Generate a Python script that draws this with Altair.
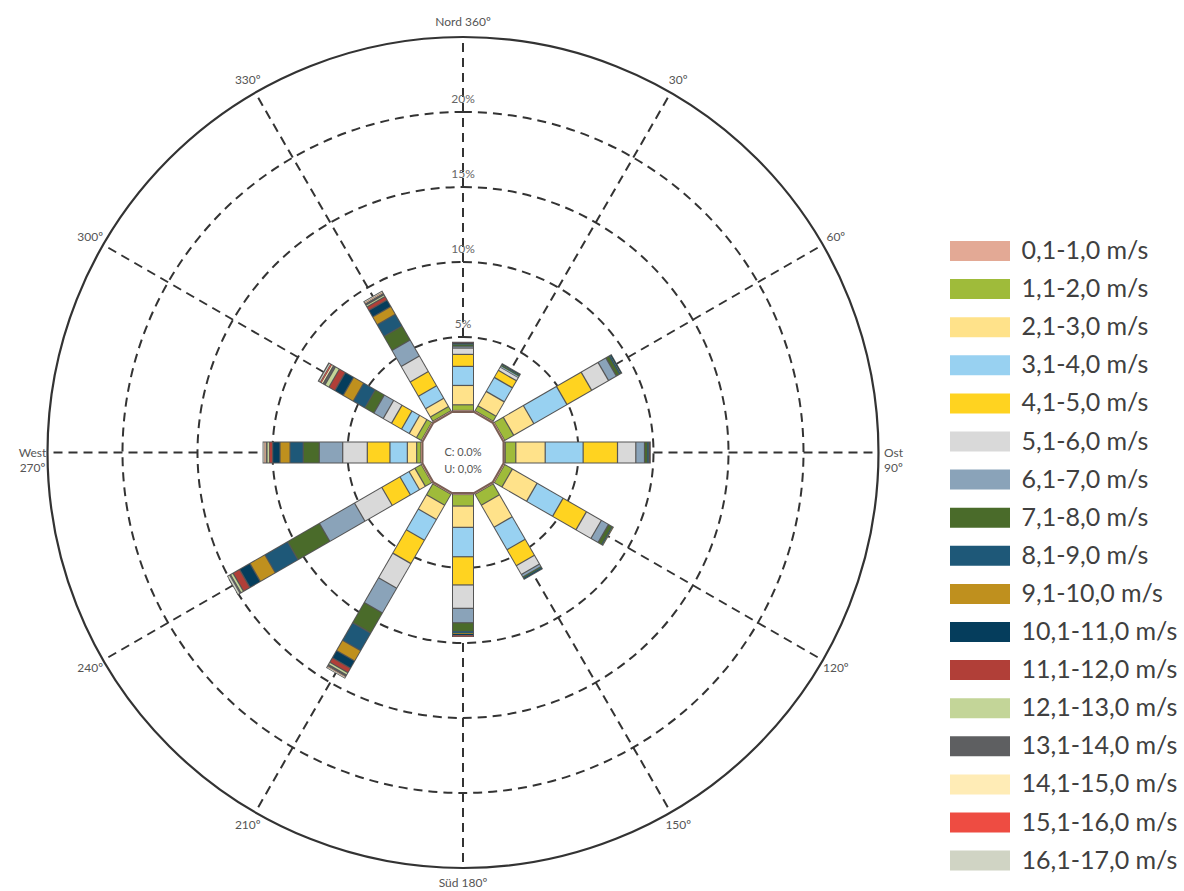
import altair as alt
import pandas as pd

# ---------------- data ----------------
directions = [0, 30, 60, 90, 120, 150, 180, 210, 240, 270, 300, 330]
direction_labels = ["Nord 360º", "30º", "60º", "Ost\n90º", "120º", "150º",
                    "Süd 180º", "210º", "240º", "West\n270º", "300º", "330º"]

speed_bins = ["0,1-1,0 m/s", "1,1-2,0 m/s", "2,1-3,0 m/s", "3,1-4,0 m/s",
              "4,1-5,0 m/s", "5,1-6,0 m/s", "6,1-7,0 m/s", "7,1-8,0 m/s",
              "8,1-9,0 m/s", "9,1-10,0 m/s", "10,1-11,0 m/s", "11,1-12,0 m/s",
              "12,1-13,0 m/s", "13,1-14,0 m/s", "14,1-15,0 m/s",
              "15,1-16,0 m/s", "16,1-17,0 m/s"]
bin_colors = ["#E3A995", "#9FBB3A", "#FFE28A", "#98D1F1", "#FFD320",
              "#D9D9D9", "#8AA3B9", "#4A6B2A", "#1E5878", "#BF901E",
              "#053D5C", "#B13F38", "#C3D598", "#5E5F61", "#FFECB6",
              "#EE4C42", "#D0D4C4"]

# frequency (%) per speed bin, one list per direction (order of speed_bins)
freq_000 = [0.10, 0.38, 1.29, 1.27, 0.80, 0.42, 0.13, 0.07, 0.06, 0.03, 0.04, 0.02, 0.00, 0.02, 0.00, 0.00, 0.00]
freq_030 = [0.10, 0.40, 1.10, 1.08, 0.54, 0.26, 0.08, 0.05, 0.04, 0.02, 0.03, 0.00, 0.00, 0.02, 0.00, 0.00, 0.00]
freq_060 = [0.10, 0.70, 1.55, 2.55, 1.90, 1.30, 0.60, 0.25, 0.08, 0.03, 0.04, 0.00, 0.00, 0.00, 0.00, 0.00, 0.00]
freq_090 = [0.11, 0.71, 1.96, 2.53, 2.29, 1.22, 0.58, 0.20, 0.09, 0.03, 0.03, 0.02, 0.00, 0.00, 0.00, 0.00, 0.00]
freq_120 = [0.10, 0.60, 1.90, 2.00, 1.80, 1.15, 0.55, 0.28, 0.05, 0.02, 0.00, 0.00, 0.00, 0.00, 0.00, 0.00, 0.00]
freq_150 = [0.10, 0.85, 1.70, 1.73, 1.23, 0.68, 0.20, 0.06, 0.05, 0.00, 0.03, 0.00, 0.00, 0.02, 0.00, 0.00, 0.00]
freq_180 = [0.10, 0.77, 1.42, 1.96, 1.88, 1.56, 0.96, 0.58, 0.10, 0.06, 0.08, 0.03, 0.00, 0.02, 0.00, 0.03, 0.00]
freq_210 = [0.10, 0.85, 1.10, 1.60, 1.80, 1.90, 1.90, 1.55, 1.35, 0.80, 0.55, 0.35, 0.18, 0.12, 0.02, 0.02, 0.06]
freq_240 = [0.10, 0.50, 0.45, 0.70, 1.40, 2.10, 2.70, 2.45, 1.75, 1.15, 0.80, 0.50, 0.20, 0.10, 0.00, 0.00, 0.10]
freq_270 = [0.10, 0.29, 0.62, 1.16, 1.51, 1.64, 1.56, 1.07, 0.88, 0.67, 0.49, 0.24, 0.10, 0.12, 0.04, 0.04, 0.08]
freq_300 = [0.10, 0.38, 0.56, 0.59, 0.77, 0.64, 0.72, 0.69, 0.90, 0.77, 0.64, 0.46, 0.30, 0.15, 0.15, 0.05, 0.15]
freq_330 = [0.10, 0.34, 0.64, 0.95, 1.10, 1.20, 1.23, 1.08, 0.90, 0.59, 0.51, 0.26, 0.15, 0.12, 0.04, 0.03, 0.05]

freq_by_dir = [freq_000, freq_030, freq_060, freq_090, freq_120, freq_150,
               freq_180, freq_210, freq_240, freq_270, freq_300, freq_330]

ring_values = [5, 10, 15, 20]
ring_labels = ["5%", "10%", "15%", "20%"]
outer_value = 25
centre_text = "C: 0.0%\nU: 0,0%"

# ---------------- geometry settings ----------------
U0 = 2.7          # radius of the empty centre, in percent units
D = 28.667        # half extent of the square plot, in percent units
SIZE = 860
FONT = "Lato"

rows = []
totals = []
for d, freqs in zip(directions, freq_by_dir):
    cum = 0.0
    for b, v in zip(speed_bins, freqs):
        if v > 0:
            rows.append({"dir": d, "bin": b, "start": cum, "end": cum + v})
        cum += v
    totals.append({"dir": d, "total": cum})
seg_df = pd.DataFrame(rows)
tot_df = pd.DataFrame(totals)
dir_df = pd.DataFrame({"dir": directions, "label": direction_labels})
ring_df = pd.DataFrame({"ring": ring_values, "label": ring_labels})
poly_df = pd.DataFrame({"k": list(range(13))})
legend_df = pd.DataFrame({"bin": speed_bins})


def X(f):
    return alt.X(f, type="quantitative", axis=None,
                 scale=alt.Scale(domain=[-D, D], nice=False, zero=False))


def Y(f):
    return alt.Y(f, type="quantitative", axis=None,
                 scale=alt.Scale(domain=[-D, D], nice=False, zero=False))


color_scale = alt.Scale(domain=speed_bins, range=bin_colors)
rad = "datum.dir*PI/180"

spokes = alt.Chart(dir_df).transform_calculate(
    x=f"{U0}*sin({rad})", y=f"{U0}*cos({rad})",
    x2=f"{U0 + outer_value}*sin({rad})", y2=f"{U0 + outer_value}*cos({rad})",
).mark_rule(color="#333333", strokeWidth=2, strokeDash=[9, 6]).encode(
    x=X("x"), y=Y("y"), x2="x2:Q", y2="y2:Q")

radius_scale = alt.Scale(type="linear", domain=[0, D], range=[0, SIZE / 2],
                         zero=True, nice=False)

rings = alt.Chart(ring_df).transform_calculate(
    r=f"{U0} + datum.ring"
).mark_arc(filled=False, color="#333333", strokeWidth=2,
           strokeDash=[9, 6], theta=0, theta2=6.2832).encode(
    radius=alt.Radius("r:Q", scale=radius_scale, stack=None))

outer = alt.Chart(pd.DataFrame({"ring": [outer_value]})).transform_calculate(
    r=f"{U0} + datum.ring"
).mark_arc(filled=False, color="#333333", strokeWidth=2.2,
           theta=0, theta2=6.2832).encode(
    radius=alt.Radius("r:Q", scale=radius_scale, stack=None))

# invisible layer that only carries the colour legend
legend_layer = alt.Chart(legend_df).transform_calculate(
    x="0", y="0"
).mark_point(filled=True, opacity=0, size=1).encode(
    x=X("x"), y=Y("y"),
    color=alt.Color(
        "bin:N", scale=color_scale,
        legend=alt.Legend(
            title=None, orient="none", legendX=917, legendY=216,
            padding=0, symbolType="M-3,-1L3,-1L3,1L-3,1Z", symbolSize=400,
            symbolStrokeWidth=0, symbolOpacity=1, symbolOffset=17.5,
            labelOffset=29, labelFont=FONT, labelFontSize=25,
            labelColor="#404040", labelLimit=300, rowPadding=12.1,
        ),
    ),
)

outline = alt.Chart(tot_df).transform_calculate(
    x=f"{U0}*sin({rad})", y=f"{U0}*cos({rad})",
    x2=f"({U0}+datum.total+0.05)*sin({rad})",
    y2=f"({U0}+datum.total+0.05)*cos({rad})",
).mark_rule(color="#555555", strokeWidth=22).encode(
    x=X("x"), y=Y("y"), x2="x2:Q", y2="y2:Q")

segments = alt.Chart(seg_df).transform_calculate(
    ins="(datum.end - datum.start) > 0.1 ? 0.04 : 0",
).transform_calculate(
    x=f"({U0}+datum.start+datum.ins)*sin({rad})",
    y=f"({U0}+datum.start+datum.ins)*cos({rad})",
    x2=f"({U0}+datum.end-datum.ins)*sin({rad})",
    y2=f"({U0}+datum.end-datum.ins)*cos({rad})",
).mark_rule(strokeWidth=20).encode(
    x=X("x"), y=Y("y"), x2="x2:Q", y2="y2:Q",
    color=alt.Color("bin:N", scale=color_scale, legend=None),
)

polygon = alt.Chart(poly_df).transform_calculate(
    a="(15 + 30*datum.k)*PI/180",
).transform_calculate(
    x=f"{U0}/cos(PI/12)*sin(datum.a)", y=f"{U0}/cos(PI/12)*cos(datum.a)",
).mark_line(color="#7b5f55", strokeWidth=2).encode(
    x=X("x"), y=Y("y"), order="k:Q")

dir_text = alt.Chart(dir_df).transform_calculate(
    x=f"{U0 + 26}*sin({rad})", y=f"{U0 + 26}*cos({rad})",
).mark_text(font=FONT, fontSize=12, color="#555555", lineBreak="\n",
            align="center", baseline="middle", lineHeight=15).encode(
    x=X("x"), y=Y("y"), text="label:N")

ring_text = alt.Chart(ring_df).transform_calculate(
    x="0", y=f"{U0} + datum.ring + 0.85",
).mark_text(font=FONT, fontSize=12, color="#666666",
            align="center", baseline="middle").encode(
    x=X("x"), y=Y("y"), text="label:N")

centre = alt.Chart(pd.DataFrame({"t": [centre_text]})).transform_calculate(
    x="0", y="0",
).mark_text(font=FONT, fontSize=11, color="#555555", lineBreak="\n",
            lineHeight=17, align="center", baseline="middle").encode(
    x=X("x"), y=Y("y"), text="t:N")

chart = alt.layer(
    spokes, rings, outer, legend_layer, outline, segments, polygon,
    dir_text, ring_text, centre,
).properties(
    width=SIZE, height=SIZE,
    padding={"left": 33, "top": 22.5, "right": 291, "bottom": 8.5},
    autosize=alt.AutoSizeParams(type="none"),
).configure_view(stroke=None)

chart.save("out.html", embed_options={"renderer": "svg", "actions": False})
